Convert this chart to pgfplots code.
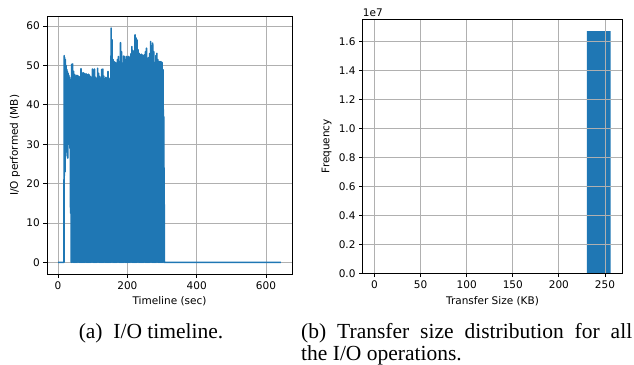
\documentclass[border=0pt]{standalone}
\usepackage{pgfplots}
\pgfplotsset{compat=1.18}
\usepackage{fontspec}
\setmainfont{DejaVu Sans}
\newfontfamily\capfont{Liberation Serif}
\definecolor{mplblue}{HTML}{1F77B4}
\definecolor{mplgrid}{HTML}{B0B0B0}
\pgfplotsset{mplstyle/.style={
  scale only axis,
  axis line style={line width=0.84pt},
  tick align=outside, tick pos=left,
  major tick length=3.7pt,
  every tick/.style={black, line width=0.84pt},
  grid=major,
  major grid style={mplgrid, line width=0.84pt},
  tick label style={font=\fontsize{10.5}{12}\selectfont},
  label style={font=\fontsize{10.5}{12}\selectfont},
  /pgf/number format/assume math mode=true,
}}
\begin{document}
\begin{tikzpicture}
\useasboundingbox (0,0) rectangle (634pt,364pt);
\begin{axis}[mplstyle, at={(47pt,90pt)}, anchor=south west,
  width=245pt, height=257.3pt,
  xmin=-32, xmax=675, ymin=-2.97, ymax=62.4,
  xtick={0,200,400,600}, ytick={0,10,20,30,40,50,60},
  xlabel={Timeline (sec)}, ylabel={I/O performed (MB)},
  xlabel style={at={(axis description cs:0.5,0)}, anchor=base, yshift=-30pt},
  ylabel style={at={(axis description cs:-0.1306,0.5)}, anchor=center}]
\addplot[mplblue, line width=1.6pt, line join=round, mark=none] coordinates {
(0,0) (17,0) (17.5,52.5) (18,22) (19,52) (20,23) (21,51.5) (22,30) (23,50) (24,28)
(25,49) (26,27) (27,48.5) (28,26.5) (29,48) (30,30) (31,47.5) (32,31) (33,47) (34,29)
(35,46.5) (36,12.5) (37,46) (38,0)
(39,50.3) (40.5,0) (42,50.4) (43.5,0) (45,48.5) (46.5,0) (48,47.7) (49.5,0) (51,47.3) (52.5,0)
(54,47.5) (55.5,0) (57,47.4) (58.5,0) (60,47.2) (61.5,0) (63,47.1) (64.5,0) (66,49.2) (67.5,0)
(69,47.2) (70.5,0) (72,48.2) (73.5,0) (75,48.0) (76.5,0) (78,47.8) (79.5,0) (81,47.9) (82.5,0)
(84,47.6) (85.5,0) (87,47.8) (88.5,0) (90,47.6) (91.5,0) (93,47.2) (94.5,0) (96,47.0) (97.5,0)
(99,49.1) (100.5,0) (102,48.8) (103.5,0) (105,49.1) (106.5,0) (108,47.0) (109.5,0) (111,46.6) (112.5,0)
(114,49.3) (115.5,0) (117,48.0) (118.5,0) (120,47.2) (121.5,0) (123,46.8) (124.5,0) (126,49.0) (127.5,0)
(129,49.1) (130.5,0) (132,47.3) (133.5,0) (135,46.6) (136.5,0) (138,47.0) (139.5,0) (141,46.8) (142.5,0)
(144,48.5) (145.5,0) (147,46.5) (148.5,0) (150,46.8) (151.5,0) (153,59.5) (154.5,0) (156,56.5) (157.5,0)
(159,51.5) (160.5,0) (162,51.0) (163.5,0) (165,50.8) (166.5,0) (168,50.6) (169.5,0) (171,51.5) (172.5,0)
(174,52.3) (175.5,0) (177,51.0) (178.5,0) (180,55.8) (181.5,0) (183,53.5) (184.5,0) (186,50.6) (187.5,0)
(189,52.4) (190.5,0) (192,52.3) (193.5,0) (195,51.5) (196.5,0) (198,52.3) (199.5,0) (201,51.8) (202.5,0)
(204,52.3) (205.5,0) (207,52.0) (208.5,0) (210,53.0) (211.5,0) (213,54.8) (214.5,0) (216,53.8) (217.5,0)
(219,53.6) (220.5,0) (222,57.8) (223.5,0) (225,57.0) (226.5,0) (228,56.5) (229.5,0) (231,54.0) (232.5,0)
(234,53.1) (235.5,0) (237,52.7) (238.5,0) (240,52.9) (241.5,0) (243,52.7) (244.5,0) (246,52.5) (247.5,0)
(249,52.7) (250.5,0) (252,53.5) (253.5,0) (255,54.4) (256.5,0) (258,50.6) (259.5,0) (261,52.0) (262.5,0)
(264,53.0) (265.5,0) (267,56.1) (268.5,0) (270,55.0) (271.5,0) (273,55.7) (274.5,0) (276,53.5) (277.5,0)
(279,50.6) (280.5,0) (282,52.5) (283.5,0) (285,53.1) (286.5,0) (288,51.5) (289.5,0) (291,51.0) (292.5,0)
(294,51.0) (295.5,0) (297,51.0) (298.5,0) (300,50.8) (301.5,0) (303,48.9) (304.5,0) (305,37) (305.5,0)
(306,24) (306.5,0) (643,0)
};
\end{axis}
\begin{axis}[mplstyle, axis on top, clip=false, at={(362.7pt,90.7pt)}, anchor=south west,
  width=259.6pt, height=254.3pt,
  xmin=-12.8, xmax=268.8, ymin=0, ymax=1.754,
  xtick={0,50,100,150,200,250}, ytick={0,0.2,0.4,0.6,0.8,1.0,1.2,1.4,1.6},
  yticklabel style={/pgf/number format/.cd, fixed, fixed zerofill, precision=1},
  xlabel={Transfer Size (KB)}, ylabel={Frequency},
  xlabel style={at={(axis description cs:0.5,0)}, anchor=base, yshift=-30.7pt},
  ylabel style={at={(axis description cs:-0.1387,0.5)}, anchor=center}]
\addplot[ybar interval, fill=mplblue, draw=none] coordinates {
(0,0) (25.6,0) (51.2,0) (76.8,0) (102.4,0) (128,0) (153.6,0) (179.2,0) (204.8,0) (230.4,1.671) (256,1.671)
};
\node[anchor=base west, inner sep=0pt, yshift=2.5pt, font=\fontsize{10.5}{12}\selectfont] at (rel axis cs:0,1) {1e7};
\end{axis}
\node[anchor=base, inner sep=0pt, font=\capfont\fontsize{21.5}{24}\selectfont] at (151pt,25.5pt) {(a)\hspace{0.5em}I/O timeline.};
\node[anchor=base west, inner sep=0pt, font=\capfont\fontsize{21.5}{24}\selectfont] at (301pt,25.5pt) {\makebox[331pt][s]{(b) Transfer size distribution for all}};
\node[anchor=base west, inner sep=0pt, font=\capfont\fontsize{21.5}{24}\selectfont] at (301pt,3.5pt) {the I/O operations.};
\end{tikzpicture}
\end{document}
